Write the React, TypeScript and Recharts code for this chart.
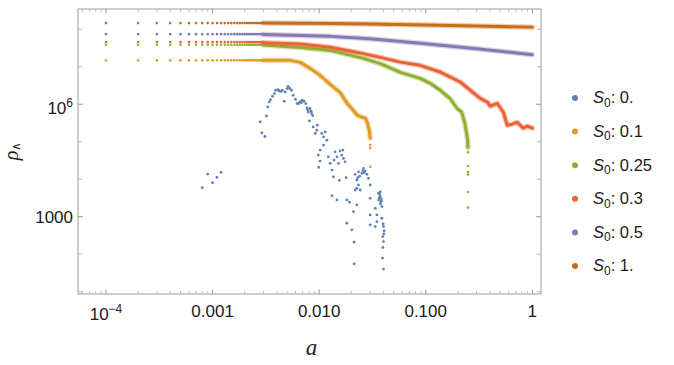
import React from 'react';
import { ComposedChart, Scatter, XAxis, YAxis } from 'recharts';

// ---------- axes ----------
const xDomain = [5.46e-5, 1.207];
const yDomain = [8.69, 3.47e8];
const xMajorTicks = [0.0001, 0.001, 0.01, 0.1, 1];
const xTickLabels = ['10^\u22124', '0.001', '0.010', '0.100', '1'];
const xMinorTicks = [
  0.00006, 0.00007, 0.00008, 0.00009,
  0.0002, 0.0003, 0.0004, 0.0005, 0.0006, 0.0007, 0.0008, 0.0009,
  0.002, 0.003, 0.004, 0.005, 0.006, 0.007, 0.008, 0.009,
  0.02, 0.03, 0.04, 0.05, 0.06, 0.07, 0.08, 0.09,
  0.2, 0.3, 0.4, 0.5, 0.6, 0.7, 0.8, 0.9,
];
const yTicks = [10, 100, 1000, 1e4, 1e5, 1e6, 1e7, 1e8];
const yLabeledTicks = [1000, 1e6];
const yTickLabels = ['1000', '10^6'];

// ---------- legend ----------
const legendValues = ['0.', '0.1', '0.25', '0.3', '0.5', '1.'];
const colors = ['#5E81B5', '#E19C24', '#8FB032', '#EB6235', '#8778B3', '#C56E1A'];

// ---------- data ----------
// sampled scale factors where the individual points are resolved
const aGrid = [
  0.0001, 0.0002, 0.0003, 0.0004, 0.0005, 0.0006, 0.0007, 0.0008, 0.0009, 0.001,
  0.0011, 0.0012, 0.0013, 0.0014, 0.0015, 0.0016, 0.0017, 0.0018, 0.0019, 0.002,
  0.0021, 0.0022, 0.0023, 0.0024, 0.0025, 0.0026, 0.0027, 0.0028, 0.0029, 0.003,
];
const flatS01 = 1.48e7;
const flatS025 = 3.87e7;
const flatS03 = 4.54e7;
const flatS05 = 7.41e7;
const flatS1 = 1.46e8;

const curveS01 = [
  [0.003, 1.48e7], [0.00535, 1.48e7], [0.00664, 1.31e7], [0.00823, 9.06e6], [0.0102, 5.9e6],
  [0.0127, 3.4e6], [0.0157, 2.08e6], [0.0183, 1.06e6], [0.0209, 6.92e5], [0.0228, 5.09e5],
  [0.0253, 4.51e5], [0.0272, 4.25e5], [0.0282, 3.32e5], [0.0295, 2.04e5], [0.0301, 1.25e5],
];
const tailS01 = [[0.0301, 8.13e4], [0.0301, 6.76e4], [0.0302, 2.15e4]];

const curveS025 = [
  [0.003, 3.8e7], [0.00664, 3.28e7], [0.0127, 2.73e7], [0.026, 1.67e7], [0.0374, 1.21e7],
  [0.0577, 7.1e6], [0.0887, 4.91e6], [0.11, 3.62e6], [0.137, 2.36e6], [0.17, 1.4e6],
  [0.196, 7.83e5], [0.217, 6.24e5], [0.233, 3.13e5], [0.2476, 1.1e5], [0.249, 7.18e4],
];
const tailS025 = [
  [0.249, 5.28e4], [0.249, 2.24e4], [0.249, 1.55e4], [0.249, 1.33e4], [0.249, 4.57e3], [0.249, 1.75e3],
];

const curveS03 = [
  [0.003, 4.4e7], [0.00664, 4.07e7], [0.0127, 3.31e7], [0.0241, 2.34e7], [0.0374, 1.78e7],
  [0.0577, 1.33e7], [0.0887, 1.09e7], [0.137, 7.23e6], [0.211, 3.92e6], [0.262, 2.36e6],
  [0.325, 1.44e6], [0.378, 1.15e6], [0.404, 8.85e5], [0.469, 1.06e6], [0.535, 6.12e5],
  [0.582, 2.76e5], [0.649, 2.94e5], [0.722, 3.32e5], [0.82, 2.3e5], [0.896, 2.6e5], [1.0, 2.3e5],
];

const curveS05 = [
  [0.003, 7.24e7], [0.0127, 6.46e7], [0.03, 5.58e7], [0.1, 4.11e7], [0.3, 3.03e7], [1.0, 2.1e7],
];

const curveS1 = [
  [0.003, 1.46e8], [0.0127, 1.42e8], [0.03, 1.38e8], [0.1, 1.29e8], [0.3, 1.22e8], [1.0, 1.14e8],
];

const pointsS0 = [
  [0.0008, 5940], [0.0009, 13700], [0.001, 8070], [0.0011, 11200], [0.0012, 15300],
  [0.0028, 338000], [0.0029, 173000], [0.0031, 138000], [0.0032, 489000], [0.0033, 848000],
  [0.0034, 1150000], [0.0035, 1330000], [0.00365, 1630000], [0.0038, 1930000], [0.0039, 2360000],
  [0.0041, 2460000], [0.0042, 2260000], [0.0044, 2200000], [0.0045, 2360000], [0.0047, 1200000],
  [0.0048, 2120000], [0.005, 2620000], [0.0051, 3010000], [0.0052, 2800000], [0.0053, 2620000],
  [0.0055, 2360000], [0.0057, 1730000], [0.006, 1360000], [0.0062, 1040000], [0.0064, 1040000],
  [0.0066, 1150000], [0.0068, 1100000], [0.0069, 1280000], [0.0071, 1230000], [0.0072, 1200000],
  [0.0075, 1040000], [0.0077, 798000], [0.0078, 700000], [0.0079, 624000], [0.0082, 769000],
  [0.0084, 650000], [0.0085, 566000], [0.0087, 500000], [0.0081, 360000], [0.0088, 249000],
  [0.0092, 166000], [0.0095, 204000], [0.0096, 276000], [0.0106, 166000], [0.011, 135000],
  [0.0114, 183000], [0.0118, 110000], [0.011, 81300], [0.0102, 59800], [0.0098, 44000],
  [0.0102, 30500], [0.0099, 20700], [0.0122, 39600], [0.0127, 26500], [0.0132, 17600],
  [0.0138, 32400], [0.0141, 53900], [0.0147, 39600], [0.0152, 26500], [0.0157, 56200],
  [0.0163, 44000], [0.0169, 36000], [0.0175, 29200], [0.0167, 59800], [0.0179, 11000],
  [0.0136, 11600], [0.0155, 9350], [0.0132, 3640], [0.0147, 2800], [0.0182, 2800],
  [0.0193, 2430], [0.021, 1370], [0.0203, 446], [0.0182, 671], [0.0213, 210], [0.0213, 55.6],
  [0.0218, 13500], [0.0234, 15800], [0.0252, 14400], [0.0261, 19500], [0.027, 16500],
  [0.0281, 13500], [0.029, 10600], [0.0226, 9520], [0.0234, 7010], [0.0218, 5160],
  [0.0226, 5730], [0.0243, 5160], [0.0301, 7010], [0.0301, 3100], [0.0226, 2060],
  [0.024, 12000], [0.0257, 17000], [0.0265, 15000], [0.023, 11000],
  [0.0361, 4220], [0.0374, 3430], [0.0379, 2520], [0.0361, 2800], [0.0388, 1860],
  [0.0336, 1680], [0.0348, 1120], [0.0301, 1120], [0.0348, 741], [0.0336, 546],
  [0.0301, 605], [0.0388, 912], [0.0402, 546], [0.0407, 419], [0.0396, 296],
  [0.0402, 218], [0.0396, 151], [0.0393, 78.7], [0.0402, 40.2], [0.0374, 4570],
  [0.0366, 3160], [0.037, 3900], [0.0383, 3000], [0.0376, 2200], [0.0385, 2650],
  [0.0398, 640], [0.0405, 350],
];

// ---------- helpers ----------
const toPts = (arr: number[][]) => arr.map(([a, rho]) => ({ a, rho }));
const flatPts = (rho: number) => aGrid.map((a) => ({ a, rho }));

const SANS = '"Liberation Sans", Arial, Helvetica, sans-serif';
const SERIF = '"Liberation Serif", "Times New Roman", Times, serif';
const FRAME = '#9a9a9a';
const MAJOR = '#9a9a9a';
const MINOR = '#b8b8b8';
const TEXT = '#1a1a1a';

const TickLabel = ({ text, x, y, anchor }: { text: string; x: number; y: number; anchor: string }) => {
  const parts = text.split('^');
  return (
    <text x={x} y={y} textAnchor={anchor as any} fontFamily={SANS} fontSize={17} fill={TEXT}>
      {parts[0]}
      {parts[1] !== undefined && (
        <tspan dy={-7} fontSize={12}>
          {parts[1]}
        </tspan>
      )}
    </text>
  );
};

const BottomTick = (p: any) => {
  const i = xMajorTicks.indexOf(p.payload.value);
  const major = i >= 0;
  return (
    <g>
      <line x1={p.x} x2={p.x} y1={p.y} y2={p.y - (major ? 4.5 : 2.8)} stroke={major ? MAJOR : MINOR} />
      {major && (
        <TickLabel
          text={xTickLabels[i]}
          x={p.x}
          y={p.y + (xTickLabels[i].includes('^') ? 26 : 23)}
          anchor="middle"
        />
      )}
    </g>
  );
};

const TopTick = (p: any) => {
  const major = xMajorTicks.indexOf(p.payload.value) >= 0;
  return (
    <line x1={p.x} x2={p.x} y1={p.y} y2={p.y + (major ? 4.5 : 2.8)} stroke={major ? MAJOR : MINOR} />
  );
};

const LeftTick = (p: any) => {
  const i = yLabeledTicks.indexOf(p.payload.value);
  const major = i >= 0;
  return (
    <g>
      <line x1={p.x} x2={p.x + (major ? 5 : 4)} y1={p.y} y2={p.y} stroke={major ? MAJOR : MINOR} />
      {major && (
        <TickLabel
          text={yTickLabels[i]}
          x={p.x - 5}
          y={p.y + (yTickLabels[i].includes('^') ? 9.3 : 6)}
          anchor="end"
        />
      )}
    </g>
  );
};

const RightTick = (p: any) => {
  const major = yLabeledTicks.indexOf(p.payload.value) >= 0;
  return <line x1={p.x} x2={p.x - (major ? 5 : 4)} y1={p.y} y2={p.y} stroke={major ? MAJOR : MINOR} />;
};

const dot = (color: string, r: number) => (p: any) =>
  p.cx == null || p.cy == null ? <g /> : <circle cx={p.cx} cy={p.cy} r={r} fill={color} />;
const noShape = () => <g />;

export default function App() {
  const curves = [
    { flat: flatS01, curve: curveS01, tail: tailS01 },
    { flat: flatS025, curve: curveS025, tail: tailS025 },
    { flat: flatS03, curve: curveS03, tail: null },
    { flat: flatS05, curve: curveS05, tail: null },
    { flat: flatS1, curve: curveS1, tail: null },
  ];

  return (
    <div style={{ position: 'absolute', left: 0, top: 0, width: 674, height: 365, background: '#fff' }}>
      <ComposedChart width={674} height={365} margin={{ top: 0, right: 0, bottom: 0, left: 0 }}>
        <XAxis
          xAxisId="b"
          dataKey="a"
          type="number"
          scale="log"
          domain={xDomain}
          allowDataOverflow
          ticks={[...xMajorTicks, ...xMinorTicks]}
          interval={0}
          height={71}
          orientation="bottom"
          axisLine={{ stroke: FRAME }}
          tickLine={false}
          tickSize={0}
          tickMargin={0}
          tick={<BottomTick />}
        />
        <XAxis
          xAxisId="t"
          dataKey="a"
          type="number"
          scale="log"
          domain={xDomain}
          allowDataOverflow
          ticks={[...xMajorTicks, ...xMinorTicks]}
          interval={0}
          height={9}
          orientation="top"
          axisLine={{ stroke: FRAME }}
          tickLine={false}
          tickSize={0}
          tickMargin={0}
          tick={<TopTick />}
        />
        <YAxis
          yAxisId="l"
          dataKey="rho"
          type="number"
          scale="log"
          domain={yDomain}
          allowDataOverflow
          ticks={yTicks}
          interval={0}
          width={78}
          orientation="left"
          axisLine={{ stroke: FRAME }}
          tickLine={false}
          tickSize={0}
          tickMargin={0}
          tick={<LeftTick />}
        />
        <YAxis
          yAxisId="r"
          dataKey="rho"
          type="number"
          scale="log"
          domain={yDomain}
          allowDataOverflow
          ticks={yTicks}
          interval={0}
          width={133}
          orientation="right"
          axisLine={{ stroke: FRAME }}
          tickLine={false}
          tickSize={0}
          tickMargin={0}
          tick={<RightTick />}
        />
        {/* invisible series binding the top and right frame axes */}
        <Scatter
          xAxisId="t"
          yAxisId="r"
          data={toPts(pointsS0)}
          shape={noShape}
          isAnimationActive={false}
        />
        <Scatter
          xAxisId="b"
          yAxisId="l"
          data={toPts(pointsS0)}
          shape={dot(colors[0], 1.4)}
          isAnimationActive={false}
        />
        {curves.map((c, k) => {
          const color = colors[k + 1];
          return (
            <React.Fragment key={k}>
              <Scatter
                xAxisId="b"
                yAxisId="l"
                data={flatPts(c.flat)}
                shape={dot(color, 1.3)}
                isAnimationActive={false}
              />
              <Scatter
                xAxisId="b"
                yAxisId="l"
                data={toPts(c.curve)}
                shape={noShape}
                line={{ stroke: color, strokeOpacity: 0.35, strokeWidth: 5.5, strokeLinejoin: 'round', strokeLinecap: 'round' }}
                isAnimationActive={false}
              />
              <Scatter
                xAxisId="b"
                yAxisId="l"
                data={toPts(c.curve)}
                shape={noShape}
                line={{ stroke: color, strokeWidth: 3, strokeLinejoin: 'round', strokeLinecap: 'round' }}
                isAnimationActive={false}
              />
              {c.tail && (
                <Scatter
                  xAxisId="b"
                  yAxisId="l"
                  data={toPts(c.tail)}
                  shape={dot(color, 1.3)}
                  isAnimationActive={false}
                />
              )}
            </React.Fragment>
          );
        })}
      </ComposedChart>
      <svg
        width={674}
        height={365}
        style={{ position: 'absolute', left: 0, top: 0, pointerEvents: 'none' }}
      >
        <text x={311.5} y={355} textAnchor="middle" fontFamily={SERIF} fontStyle="italic" fontSize={23} fill={TEXT}>
          a
        </text>
        <text
          x={18}
          y={151}
          textAnchor="middle"
          transform="rotate(-90 18 151)"
          fontFamily={SERIF}
          fontStyle="italic"
          fontSize={20}
          fill={TEXT}
        >
          ρ
          <tspan dy={2} fontSize={12} fontStyle="normal" fontFamily={SANS}>
            ∧
          </tspan>
        </text>
        {legendValues.map((v, i) => {
          const cy = 98 + i * 33.6;
          return (
            <g key={v}>
              <circle cx={575} cy={cy} r={3} fill={colors[i]} />
              <text x={593} y={cy + 5.3} fontFamily={SANS} fontSize={16.5} fill={TEXT}>
                <tspan fontStyle="italic">S</tspan>
                <tspan dy={3.5} fontSize={12}>
                  0
                </tspan>
                <tspan dy={-3.5}>{': ' + v}</tspan>
              </text>
            </g>
          );
        })}
      </svg>
    </div>
  );
}
